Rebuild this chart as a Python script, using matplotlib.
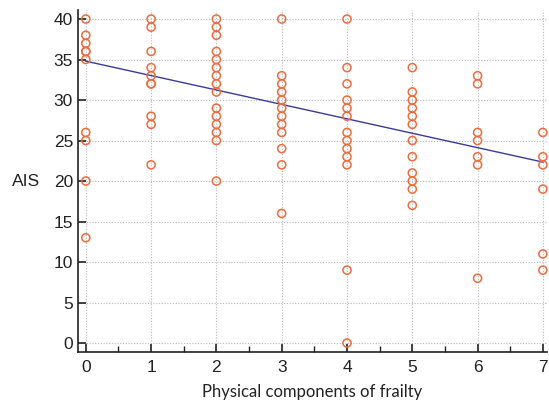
import matplotlib
matplotlib.use("Agg")
import matplotlib.pyplot as plt
from matplotlib.ticker import MultipleLocator

# Data: physical components of frailty (x) vs AIS (y)
col0 = [40, 38, 37, 36, 36, 35, 26, 25, 20, 13]
col1 = [40, 39, 36, 34, 33, 32, 32, 28, 27, 22]
col2 = [40, 39, 38, 36, 35, 34, 33, 32, 31, 29, 28, 27, 26, 25, 20]
col3 = [40, 33, 32, 31, 30, 29, 28, 27, 26, 24, 22, 16]
col4 = [40, 34, 32, 30, 29, 28, 26, 25, 24, 23, 22, 9, 0]
col5 = [34, 31, 30, 29, 28, 27, 25, 23, 21, 20, 19, 17]
col6 = [33, 32, 26, 25, 23, 22, 8]
col7 = [26, 23, 22, 19, 11, 9]
columns = [col0, col1, col2, col3, col4, col5, col6, col7]

fit_intercept = 34.8
fit_slope = -1.78
x_ticks = [0, 1, 2, 3, 4, 5, 6, 7]
y_ticks = [0, 5, 10, 15, 20, 25, 30, 35, 40]

xs, ys = [], []
for i, col in enumerate(columns):
    xs += [i] * len(col)
    ys += col

fig = plt.figure(figsize=(5.49, 4.05), dpi=100)
ax = fig.add_axes([0.142, 0.131, 0.854, 0.844])

ax.grid(True, color="#b8b8b8", linestyle=(0, (1, 1.5)), linewidth=0.8)
ax.set_axisbelow(True)

ax.plot([0, 7], [fit_intercept, fit_intercept + 7 * fit_slope], color="#3a3a9c", linewidth=1.0, zorder=2)
ax.scatter(xs, ys, s=34, facecolors="none", edgecolors="#f06a3c", linewidths=1.1, zorder=3, clip_on=False)

ax.set_xlim(-0.12, 7.06)
ax.set_ylim(-1.1, 41.1)
ax.set_xticks(x_ticks)
ax.set_yticks(y_ticks)
ax.xaxis.set_minor_locator(MultipleLocator(0.5))

for s in ["top", "right"]:
    ax.spines[s].set_visible(False)
for s in ["left", "bottom"]:
    ax.spines[s].set_linewidth(1.2)
    ax.spines[s].set_color("#222222")

ax.tick_params(axis="both", which="major", direction="in", length=6, width=1.2, color="#222222",
               labelsize=12.5, labelcolor="#222222")
ax.tick_params(axis="x", which="minor", direction="in", length=4, width=1.0, color="#222222")
ax.tick_params(axis="x", which="major", pad=6)
for lab in ax.get_xticklabels() + ax.get_yticklabels():
    lab.set_family("Liberation Sans")

ax.set_xlabel("Physical components of frailty", fontsize=12, family="Lato", color="#222222", labelpad=6)
ax.set_ylabel("AIS", fontsize=12.5, family="Liberation Sans", color="#222222", rotation=0, labelpad=20, va="center")

fig.savefig("out.png", dpi=100)
